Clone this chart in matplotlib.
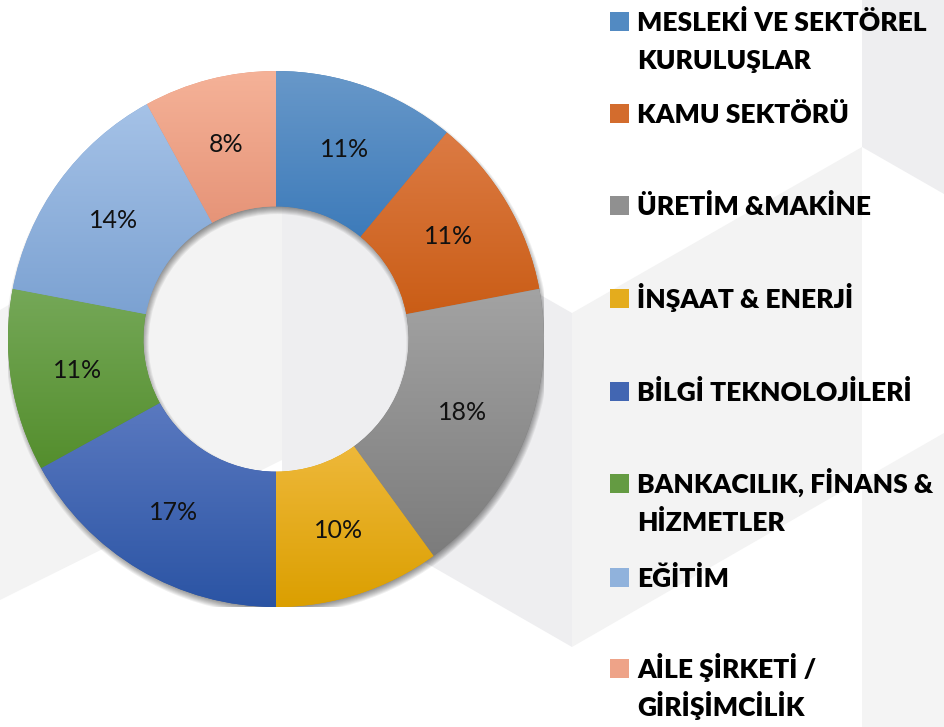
import numpy as np
import matplotlib
matplotlib.use("Agg")
import matplotlib.pyplot as plt
from matplotlib.patches import Polygon, Rectangle, Wedge
from matplotlib.colors import LinearSegmentedColormap

# ---- data ----
categories = [
    "MESLEKİ VE SEKTÖREL\nKURULUŞLAR",
    "KAMU SEKTÖRÜ",
    "ÜRETİM &MAKİNE",
    "İNŞAAT & ENERJİ",
    "BİLGİ TEKNOLOJİLERİ",
    "BANKACILIK, FİNANS &\nHİZMETLER",
    "EĞİTİM",
    "AİLE ŞİRKETİ /\nGİRİŞİMCİLİK",
]
values = [11, 11, 18, 10, 17, 11, 14, 8]

# ---- styles ----
top_colors = ["#6898C9", "#DC7B44", "#A3A3A3", "#EEB83A", "#5A79C0", "#75A858", "#A5C2E7", "#F5B298"]
bot_colors = ["#3D7BBA", "#CA5D16", "#7C7C7C", "#DB9F00", "#2B54A4", "#548E2D", "#7CA2D2", "#E69478"]

W, H = 944, 727
fig = plt.figure(figsize=(W / 100, H / 100), dpi=100)
fig.patch.set_facecolor("white")

def fx(x):
    return x / W

def fy(y):
    return 1 - y / H

def poly(pts, color):
    fig.patches.append(Polygon([(fx(x), fy(y)) for x, y in pts], closed=True,
                               transform=fig.transFigure, facecolor=color,
                               edgecolor="none", zorder=-5))

# decorative background (cube faces)
poly([(282, 147), (572, 313), (572, 647), (282, 480)], "#EEEEF0")
poly([(572, 313), (862, 147), (862, 480), (572, 647)], "#F3F3F3")
poly([(282, 147), (282, 460), (0, 600), (0, 310)], "#F3F3F3")
poly([(862, 0), (862, 147), (944, 194), (944, 0)], "#EEEEF0")
poly([(862, 480), (944, 433), (944, 727), (862, 727)], "#F4F4F4")

# ---- donut ----
cx, cy, R = 276, 339, 268
ax = fig.add_axes([fx(cx - R), fy(cy + R), 2 * R / W, 2 * R / H])
ax.set_facecolor("none")
ax.set_zorder(1)
ring_w = 0.505
r_in = 1 - ring_w

# soft shadow (offset down-right, blurred)
offx, offy = 1.5 / R, 4.0 / R
for k in range(-4, 5):
    e = k * 0.0035
    ax.add_patch(Wedge((offx, -offy), 1 + e, 0, 360, width=ring_w + 2 * e,
                       facecolor="black", edgecolor="none", alpha=0.06, zorder=1))

wedges, texts, autotexts = ax.pie(
    values, startangle=90, counterclock=False, radius=1,
    wedgeprops=dict(width=ring_w, edgecolor="none"),
    autopct="%1.0f%%", pctdistance=0.75,
    textprops=dict(fontsize=18, color="#111111", family="Lato"),
)
for w, ct, cb in zip(wedges, top_colors, bot_colors):
    w.set_facecolor(cb)
    w.set_zorder(2)
    bb = w.get_path().get_extents()
    cmap = LinearSegmentedColormap.from_list("g", [ct, cb])
    im = ax.imshow(np.linspace(0, 1, 256)[:, None], cmap=cmap, origin="upper",
                   extent=(bb.x0, bb.x1, bb.y0, bb.y1), aspect="auto", zorder=3)
    im.set_clip_path(w)
for t in autotexts:
    t.set_zorder(5)
ax.set_xlim(-1, 1)
ax.set_ylim(-1, 1)
ax.set_aspect("auto")
ax.axis("off")

# ---- legend ----
baselines = [31, 123, 215, 308, 401, 493, 587, 678]
line_gap = 38
sq = 19
for lab, ct, cb, yb in zip(categories, top_colors, bot_colors, baselines):
    mid = matplotlib.colors.to_hex(
        (np.array(matplotlib.colors.to_rgb(ct)) + np.array(matplotlib.colors.to_rgb(cb))) / 2)
    fig.patches.append(Rectangle((fx(610), fy(yb)), sq / W, sq / H,
                                 transform=fig.transFigure, facecolor=mid,
                                 edgecolor="none", zorder=2))
    for j, line in enumerate(lab.split("\n")):
        fig.text(fx(637), fy(yb + j * line_gap), line, ha="left", va="baseline",
                 fontsize=19, fontweight="heavy", family="Lato", color="#000000")

fig.savefig("out.png", dpi=100, facecolor="white")
